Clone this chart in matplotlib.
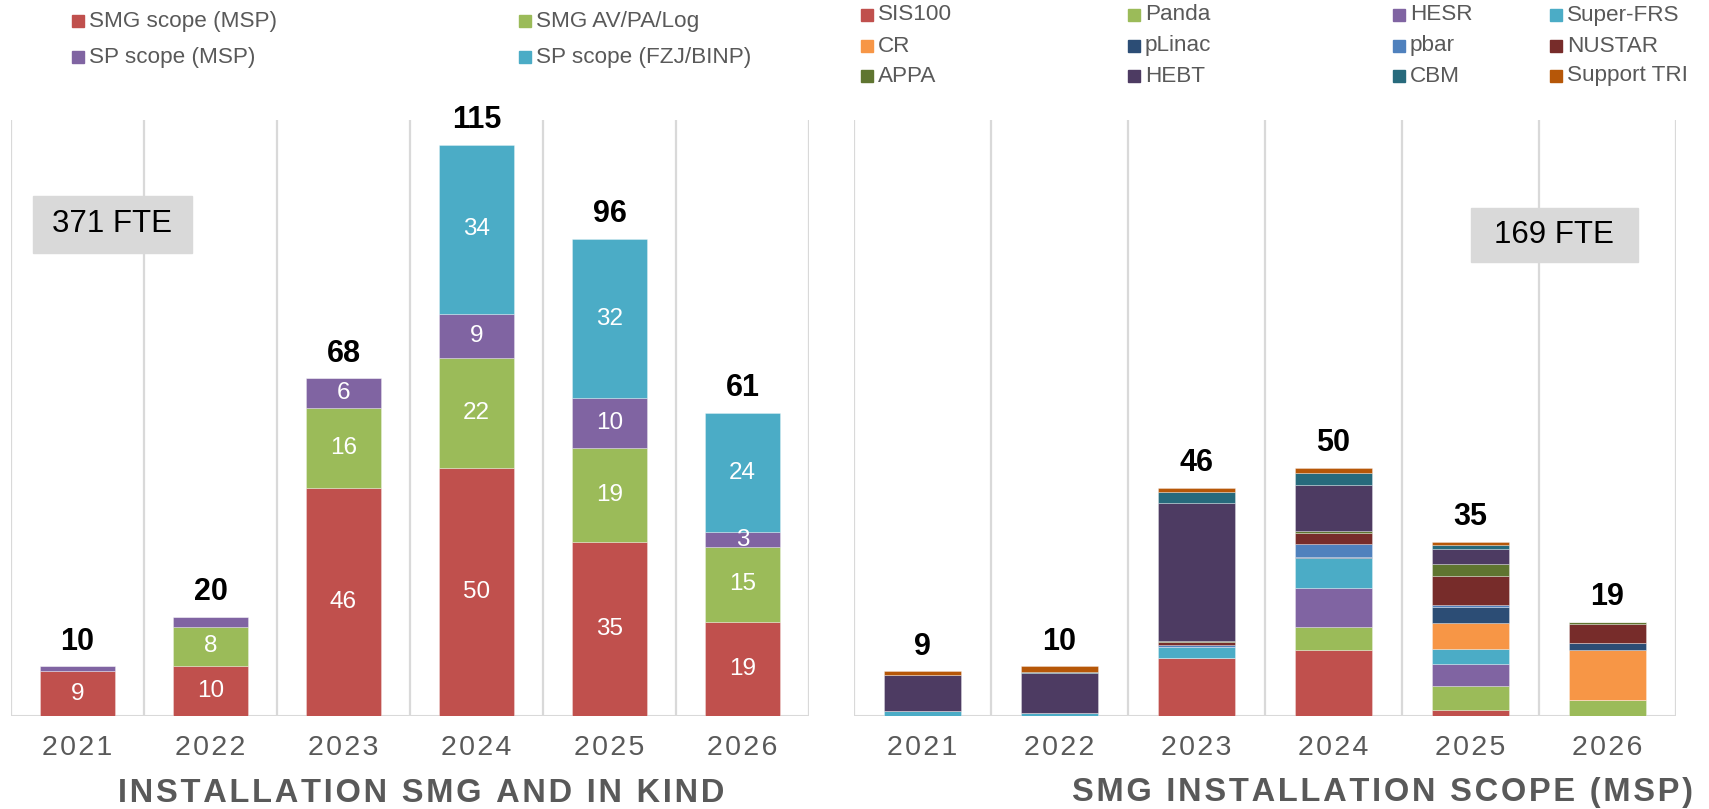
import numpy as np
import matplotlib
matplotlib.use('Agg')
import matplotlib.pyplot as plt
from matplotlib.patches import Rectangle

plt.rcParams['font.family'] = ['Liberation Sans', 'DejaVu Sans']

# ---- data ----
years = ['2021', '2022', '2023', '2024', '2025', '2026']

# left chart: installation SMG and in kind (FTE)
left_names = ['SMG scope (MSP)', 'SMG AV/PA/Log', 'SP scope (MSP)', 'SP scope (FZJ/BINP)']
smg_msp = [9, 10, 46, 50, 35, 19]
smg_av = [0, 8, 16, 22, 19, 15]
sp_msp = [1, 2, 6, 9, 10, 3]
sp_fzj = [0, 0, 0, 34, 32, 24]
left_colors = ['#C0504D', '#9BBB59', '#8064A2', '#4BACC6']
left_total = '371 FTE'

# right chart: SMG installation scope (MSP), split by machine
right_names = ['SIS100', 'Panda', 'HESR', 'Super-FRS', 'CR', 'pLinac',
               'pbar', 'NUSTAR', 'APPA', 'HEBT', 'CBM', 'Support TRI']
sis100 = [0, 0, 11.6, 13.3, 1.2, 0]
panda = [0, 0, 0, 4.7, 4.8, 3.2]
hesr = [0, 0, 0, 7.7, 4.4, 0]
super_frs = [1.0, 0.7, 2.2, 6.1, 3.1, 0]
cr = [0, 0, 0, 0, 5.2, 10.0]
plinac = [0, 0, 0, 0.2, 3.3, 1.4]
pbar = [0, 0, 0.4, 2.6, 0.3, 0]
nustar = [0, 0, 0.7, 2.2, 5.9, 3.9]
appa = [0, 0, 0.2, 0.5, 2.4, 0.5]
hebt = [7.2, 8.0, 27.8, 9.3, 3.0, 0]
cbm = [0, 0.2, 2.3, 2.4, 0.9, 0]
support_tri = [0.8, 1.1, 0.8, 1.0, 0.5, 0]
right_colors = ['#C0504D', '#9BBB59', '#8064A2', '#4BACC6', '#F79646', '#2C4D75',
                '#4F81BD', '#772C2A', '#5F7530', '#4D3B62', '#276A7C', '#B65708']
right_total = '169 FTE'

left_series = [smg_msp, smg_av, sp_msp, sp_fzj]
right_series = [sis100, panda, hesr, super_frs, cr, plinac, pbar, nustar,
                appa, hebt, cbm, support_tri]

W, H = 1709, 809
GRID = '#d9d9d9'
GRAY = '#595959'


def spaced(s):
    # mimic the letter spacing of the original
    return '\u200a'.join(s)


fig = plt.figure(figsize=(W / 100, H / 100), dpi=100)
ax1 = fig.add_axes([11 / W, 93 / H, 798 / W, 596 / H])
ax2 = fig.add_axes([854 / W, 93 / H, 822 / W, 596 / H])

x = np.arange(len(years))


def setup(ax):
    ax.set_xlim(-0.5, len(years) - 0.5)
    ax.set_ylim(0, 120)
    for s in ax.spines.values():
        s.set_visible(False)
    ax.vlines(np.arange(-0.5, len(years), 1), 0, 120, color=GRID, lw=1.6, zorder=0)
    ax.axhline(0, color=GRID, lw=2.2, zorder=0)
    ax.set_yticks([])
    ax.set_xticks(x)
    ax.set_xticklabels([spaced(y) for y in years], fontsize=20.5, color=GRAY)
    ax.tick_params(axis='x', length=0, pad=14)


def stack(ax, series, colors, width, inner_labels):
    bottom = np.zeros(len(years))
    for vals, col in zip(series, colors):
        vals = np.array(vals, dtype=float)
        bars = ax.bar(x, vals, width, bottom=bottom, color=col,
                      edgecolor=(1, 1, 1, 0.35), linewidth=0.6, zorder=2)
        if inner_labels:
            for b, v in zip(bars, vals):
                if v >= 3:
                    ax.text(b.get_x() + b.get_width() / 2, b.get_y() + v / 2,
                            f'{v:g}', ha='center', va='center', color='white',
                            fontsize=17.5, zorder=3)
        bottom += vals
    for xi, tot in zip(x, bottom):
        ax.annotate(f'{round(tot)}', (xi, tot), xytext=(0, 7), textcoords='offset points',
                    ha='center', va='bottom', fontsize=22, fontweight='bold', color='black')


setup(ax1)
setup(ax2)
stack(ax1, left_series, left_colors, 0.56, True)
stack(ax2, right_series, right_colors, 0.555, False)

# FTE boxes
ax1.add_patch(Rectangle((0.0276, 0.777), 0.199, 0.0956, transform=ax1.transAxes,
                        color=GRID, zorder=4))
ax1.text(0.1266, 0.8255, left_total, transform=ax1.transAxes, ha='center', va='center',
         fontsize=22.5, color='black', zorder=5)
ax2.add_patch(Rectangle((0.7506, 0.7617), 0.203, 0.0906, transform=ax2.transAxes,
                        color=GRID, zorder=4))
ax2.text(0.8516, 0.807, right_total, transform=ax2.transAxes, ha='center', va='center',
         fontsize=22.5, color='black', zorder=5)

# titles under the charts
fig.text(421 / W, 1 - 793 / H, spaced('INSTALLATION SMG AND IN KIND'), ha='center',
         va='center', fontsize=23.5, fontweight='bold', color=GRAY)
fig.text(1383 / W, 1 - 793 / H, spaced('SMG INSTALLATION SCOPE (MSP)'), ha='center',
         va='center', fontsize=23.5, fontweight='bold', color=GRAY)


# legends drawn by hand so the columns line up like the original
def legend(names, colors, cols_px, rows_px):
    n = len(cols_px)
    for i, (name, col) in enumerate(zip(names, colors)):
        px = cols_px[i % n]
        py = rows_px[i // n]
        fig.patches.append(Rectangle((px / W, 1 - (py + 6) / H), 12 / W, 12 / H,
                                     transform=fig.transFigure, color=col))
        fig.text((px + 17) / W, 1 - py / H, name, ha='left', va='center',
                 fontsize=16.2, color=GRAY)


legend(left_names, left_colors, [72, 519], [21, 57])
legend(right_names, right_colors, [861, 1128, 1393, 1550], [15, 46, 76])

fig.savefig('out.png', dpi=100)
